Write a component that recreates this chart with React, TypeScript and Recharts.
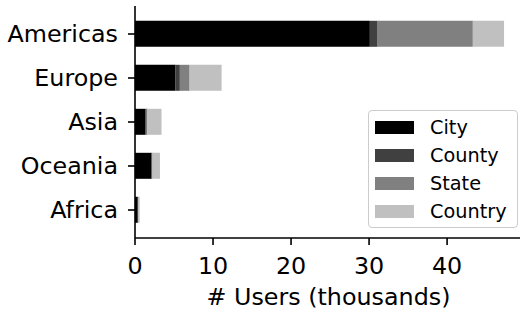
import { BarChart, Bar, XAxis, YAxis, Legend, Label } from 'recharts'

const regions = ['Americas', 'Europe', 'Asia', 'Oceania', 'Africa']
const city = [30.1, 5.2, 1.35, 2.1, 0.35]
const county = [1.0, 0.55, 0.15, 0.1, 0.05]
const state = [12.2, 1.25, 0.1, 0.05, 0.05]
const country = [4.0, 4.1, 1.8, 0.95, 0.15]

const seriesNames = ['City', 'County', 'State', 'Country']
const seriesColors = ['#000000', '#404040', '#808080', '#c0c0c0']
const xTicks = [0, 10, 20, 30, 40]

const font = "'DejaVu Sans', sans-serif"

const data = regions.map((name, i) => ({
  name,
  City: city[i],
  County: county[i],
  State: state[i],
  Country: country[i],
}))

function LegendBox() {
  return (
    <div
      style={{
        border: '1px solid #cccccc',
        borderRadius: 4,
        background: 'rgba(255,255,255,0.8)',
        padding: '2px 10px 2px 6px',
        fontFamily: font,
        fontSize: 19.3,
        color: '#000',
      }}
    >
      {seriesNames.map((n, i) => (
        <div key={n} style={{ display: 'flex', alignItems: 'center', height: 28 }}>
          <span style={{ width: 39, height: 13, background: seriesColors[i], marginRight: 16 }} />
          <span>{n}</span>
        </div>
      ))}
    </div>
  )
}

export default function App() {
  return (
    <div style={{ position: 'absolute', left: 0, top: 0, width: 520, height: 316, overflow: 'hidden', background: '#fff' }}>
      <BarChart
        width={530}
        height={316}
        data={data}
        layout='vertical'
        margin={{ top: 6, right: 8, bottom: 0, left: 0 }}
        barCategoryGap='20%'
      >
        <XAxis
          type='number'
          domain={[0, 49.6]}
          ticks={xTicks}
          height={78}
          tickSize={7}
          tickMargin={12}
          stroke='#000'
          strokeWidth={1.6}
          tick={{ fill: '#000', fontSize: 23.8, fontFamily: font }}
          allowDataOverflow
        >
          <Label
            value='# Users (thousands)'
            position='insideBottom'
            offset={11}
            style={{ fill: '#000', fontSize: 23.8, fontFamily: font }}
          />
        </XAxis>
        <XAxis
          xAxisId='top'
          orientation='top'
          type='number'
          domain={[0, 49.6]}
          height={0}
          tick={false}
          tickLine={false}
          stroke='#000'
          strokeWidth={1.6}
        />
        <YAxis
          type='category'
          dataKey='name'
          width={135}
          interval={0}
          padding={{ top: 6, bottom: 6 }}
          tickSize={7}
          tickMargin={10}
          stroke='#000'
          strokeWidth={1.6}
          tick={{ fill: '#000', fontSize: 23.8, fontFamily: font }}
        />
        <Legend
          layout='horizontal'
          verticalAlign='middle'
          align='center'
          content={() => <LegendBox />}
          wrapperStyle={{ position: 'absolute', left: 368, top: 110, width: 'auto', bottom: 'auto', right: 'auto' }}
        />
        {seriesNames.map((n, i) => (
          <Bar key={n} dataKey={n} stackId='a' fill={seriesColors[i]} isAnimationActive={false} />
        ))}
      </BarChart>
    </div>
  )
}
